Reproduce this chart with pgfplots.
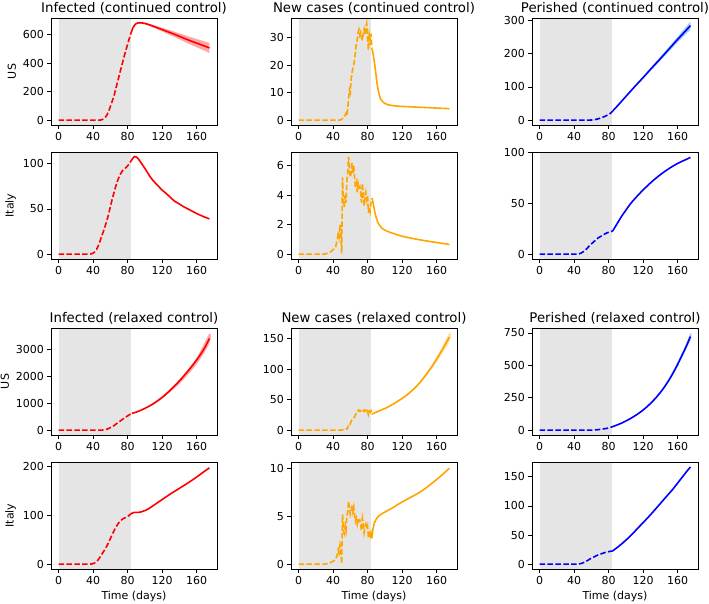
\documentclass[border=0pt]{standalone}
\usepackage{pgfplots}
\pgfplotsset{compat=1.18}
\usepackage{fontspec}
\setmainfont{DejaVu Sans}
\definecolor{mplorange}{RGB}{255,165,0}
\definecolor{spangray}{RGB}{229,229,229}
\definecolor{bandblue}{RGB}{110,180,250}
\pgfplotsset{
  base/.style={
    width=166pt, height=107pt, scale only axis, anchor=north west,
    xmin=-8.75, xmax=183.75, xtick={0,40,80,120,160},
    tick pos=left, tick align=outside, major tick length=3.6pt,
    every tick/.style={black, line width=0.8pt},
    axis line style={line width=0.8pt},
    ticklabel style={font=\fontsize{11}{13}\selectfont},
    title style={font=\fontsize{13.3}{15}\selectfont, yshift=-6pt},
    label style={font=\fontsize{11}{13}\selectfont},
    /pgf/number format/1000 sep={},
    /pgf/number format/assume math mode=true,
    scaled y ticks=false, axis on top, clip=true,
  },
  obs/.style={line width=1.6pt, dash pattern=on 5.5pt off 2.4pt},
  proj/.style={line width=1.6pt, smooth, tension=0.5},
}
\begin{document}
\begin{tikzpicture}
\useasboundingbox (0,0) rectangle (709pt,-603pt);
% ---------------- Row 1: US continued
\begin{axis}[base, at={(51pt,-18pt)}, ymin=-34.1, ymax=716, ytick={0,200,400,600},
  title={Infected (continued control)}, ylabel={US}]
\addplot[fill=spangray, draw=none] coordinates {(0,-34.1) (84,-34.1) (84,716) (0,716)};
\addplot[fill=red, fill opacity=0.35, draw=none] coordinates {(85,625)(90,680)(100,683)(110,667)(120,648)(130,629)(140,609)(150,588)(160,569)(170,551)(175,542)(175,470)(170,485)(160,511)(150,538)(140,567)(130,595)(120,622)(110,649)(100,673)(90,676)(85,625)};
\addplot[obs, red] coordinates {(0,0)(10,0)(20,0)(30,0)(40,0)(48,0.5)(50,2)(52,8)(54,18)(56,35)(58,60)(60,94)(62,128)(64,164)(66,210)(68,258)(70,305)(72,352)(74,398)(76,445)(78,488)(80,530)(82,572)(84,610)(85,625)};
\addplot[proj, red] coordinates {(85,625)(86,645)(88,664)(90,676)(92,682)(95,683)(100,678)(105,669)(110,658)(120,635)(130,612)(140,588)(150,563)(160,540)(170,518)(175,506)};
\end{axis}
\begin{axis}[base, at={(291pt,-18pt)}, ymin=-1.77, ymax=37.2, ytick={0,10,20,30},
  title={New cases (continued control)}]
\addplot[fill=spangray, draw=none] coordinates {(0,-1.77) (84,-1.77) (84,37.2) (0,37.2)};
\addplot[obs, mplorange] coordinates {(0,0)(10,0)(20,0)(30,0)(40,0)(48,0)(50,0.3)(52,0.8)(54,1.8)(55,2.5)(56,1.5)(57,4)(58,8)(59,11)(60,10)(61,15)(62,17)(63,19)(64,20)(65,22)(66,25)(67,28)(68,29)(69,32)(70,33)(71,31)(72,32)(73,30)(74,29)(75,31.5)(76,33)(77,31)(78,34)(79,35.3)(80,30)(81,25.5)(82,31)(83,29)(84,31.5)(85,26)};
\addplot[proj, mplorange] coordinates {(85,26)(86,25)(87,23)(88,21)(89,18.5)(90,16)(91,13.5)(92,11.5)(93,10)(94,8.8)(95,7.9)(96,7.3)(98,6.6)(100,6.1)(105,5.5)(110,5.25)(120,5.0)(130,4.85)(140,4.7)(150,4.55)(160,4.4)(170,4.25)(175,4.15)};
\end{axis}
\begin{axis}[base, at={(532pt,-18pt)}, ymin=-14.8, ymax=308, ytick={0,100,200,300},
  title={Perished (continued control)}]
\addplot[fill=spangray, draw=none] coordinates {(0,-14.8) (84,-14.8) (84,308) (0,308)};
\addplot[fill=bandblue, fill opacity=0.7, draw=none] coordinates {(85,28)(100,72)(120,131)(140,191)(160,251)(175,297)(175,273)(160,235)(140,179)(120,125)(100,70)(85,28)};
\addplot[obs, blue] coordinates {(0,0)(10,0)(20,0)(30,0)(40,0)(50,0)(58,0)(60,0.3)(62,0.8)(64,1.5)(66,2.5)(68,3.8)(70,5.5)(72,7.5)(74,9.5)(76,11.5)(78,14)(80,17)(82,20)(84,25)(85,28)};
\addplot[proj, blue] coordinates {(85,28)(90,42)(100,71)(110,100)(120,128)(130,157)(140,185)(150,214)(160,243)(170,271)(175,285)};
\end{axis}
% ---------------- Row 2: Italy continued
\begin{axis}[base, at={(51pt,-152pt)}, ymin=-5.4, ymax=113, ytick={0,50,100},
  ylabel={Italy}]
\addplot[fill=spangray, draw=none] coordinates {(0,-5.4) (84,-5.4) (84,113) (0,113)};
\addplot[obs, red] coordinates {(0,0)(10,0)(20,0)(30,0)(36,0)(38,0.3)(40,1)(42,2.5)(44,5)(46,9)(48,14)(50,20)(52,25)(54,31)(56,37)(58,44)(60,52)(62,60)(64,67)(66,74)(68,80)(70,85)(72,89)(74,92)(76,94)(78,95.5)(80,97.5)(82,100)(84,103)(85,104)};
\addplot[proj, red] coordinates {(85,104)(86,106)(88,108)(90,107.5)(92,106)(95,102)(100,95)(106,86)(110,81)(115,76)(120,71)(125,67)(130,62.5)(134,59)(140,55.5)(145,52.5)(150,50)(157,46.5)(160,45)(167,42)(175,39)};
\end{axis}
\begin{axis}[base, at={(291pt,-152pt)}, ymin=-0.33, ymax=6.93, ytick={0,2,4,6}]
\addplot[fill=spangray, draw=none] coordinates {(0,-0.33) (84,-0.33) (84,6.93) (0,6.93)};
\addplot[obs, mplorange] coordinates {(0,0)(10,0)(20,0)(30,0)(33,0.05)(36,0.1)(40,0.3)(43,0.5)(45,1.0)(46,1.5)(47,1.2)(48,2.0)(49,1.5)(50,0.05)(51,5.2)(52,3.5)(53,3.2)(54,4)(55,3.5)(56,5)(57,5.5)(58,6.6)(59,5.8)(60,5.2)(61,5.5)(62,6.2)(63,5.5)(64,6)(65,5.2)(66,4.5)(67,4.8)(68,4.2)(69,4.8)(70,4.5)(71,4.6)(72,4.2)(73,3.5)(74,4.8)(75,4.2)(76,3.3)(77,3.9)(78,4.2)(79,3.7)(80,4.0)(81,2.8)(82,3.2)(83,2.9)(84,3.5)(85,3.8)};
\addplot[proj, mplorange] coordinates {(85,3.8)(86,3.6)(87,3.3)(88,3.0)(89,2.7)(90,2.5)(92,2.15)(94,1.95)(97,1.75)(100,1.63)(103,1.55)(110,1.4)(120,1.22)(130,1.09)(140,0.98)(150,0.88)(160,0.79)(170,0.7)(175,0.65)};
\end{axis}
\begin{axis}[base, at={(532pt,-152pt)}, ymin=-4.75, ymax=100.3, ytick={0,50,100}]
\addplot[fill=spangray, draw=none] coordinates {(0,-4.75) (84,-4.75) (84,100.3) (0,100.3)};
\addplot[obs, blue] coordinates {(0,0)(10,0)(20,0)(30,0)(40,0)(44,0)(46,0.4)(48,1)(50,2)(52,3.3)(54,4.8)(56,6.5)(58,8.5)(60,10)(62,11.5)(64,13)(66,14.5)(68,16)(70,17)(72,18)(74,19)(76,20)(78,20.8)(80,21.5)(82,22)(84,22.5)(85,23)};
\addplot[proj, blue] coordinates {(85,23)(90,30)(95,37)(100,43)(105,49)(110,54)(116,59.5)(120,63)(130,71)(140,78)(150,84)(160,89)(170,93)(175,95)};
\end{axis}
% ---------------- Row 3: US relaxed
\begin{axis}[base, at={(51pt,-328pt)}, ymin=-181, ymax=3807, ytick={0,1000,2000,3000},
  title={Infected (relaxed control)}, ylabel={US}]
\addplot[fill=spangray, draw=none] coordinates {(0,-181) (84,-181) (84,3807) (0,3807)};
\addplot[fill=red, fill opacity=0.35, draw=none, smooth] coordinates {(85,625)(100,830)(120,1270)(140,1875)(160,2690)(175,3600)(175,3240)(160,2450)(140,1725)(120,1190)(100,800)(85,625)};
\addplot[obs, red] coordinates {(0,0)(10,0)(20,0)(30,0)(40,0)(48,0.5)(50,2)(52,8)(54,18)(56,35)(58,60)(60,94)(62,128)(64,164)(66,210)(68,258)(70,305)(72,352)(74,398)(76,445)(78,488)(80,530)(82,572)(84,610)(85,625)};
\addplot[proj, red] coordinates {(85,625)(90,672)(95,735)(100,810)(105,890)(110,985)(115,1095)(120,1215)(125,1350)(130,1500)(135,1660)(140,1830)(145,2010)(150,2200)(155,2400)(160,2610)(165,2840)(170,3100)(175,3420)};
\end{axis}
\begin{axis}[base, at={(291pt,-328pt)}, ymin=-8, ymax=167.6, ytick={0,50,100,150},
  title={New cases (relaxed control)}]
\addplot[fill=spangray, draw=none] coordinates {(0,-8) (84,-8) (84,167.6) (0,167.6)};
\addplot[fill=mplorange, fill opacity=0.35, draw=none, smooth] coordinates {(85,26)(100,36)(120,52)(140,79)(160,120)(175,160)(175,146)(160,112)(140,75)(120,50)(100,35)(85,26)};
\addplot[obs, mplorange] coordinates {(0,0)(10,0)(20,0)(30,0)(40,0)(48,0)(50,0.3)(52,0.8)(54,1.8)(55,2.5)(56,1.5)(57,4)(58,8)(59,11)(60,10)(61,15)(62,17)(63,19)(64,20)(65,22)(66,25)(67,28)(68,29)(69,32)(70,33)(71,31)(72,32)(73,30)(74,29)(75,31.5)(76,33)(77,31)(78,34)(79,35.3)(80,30)(81,25.5)(82,31)(83,29)(84,31.5)(85,26)};
\addplot[proj, mplorange] coordinates {(85,26)(90,29.5)(95,32.5)(100,35.5)(105,39)(110,43)(115,47.5)(120,52)(125,57)(130,63)(135,69.5)(140,77)(145,85.5)(150,95)(155,105)(160,116)(165,128)(170,140)(175,153)};
\end{axis}
\begin{axis}[base, at={(532pt,-328pt)}, ymin=-37.5, ymax=788, ytick={0,250,500,750},
  title={Perished (relaxed control)}]
\addplot[fill=spangray, draw=none] coordinates {(0,-37.5) (84,-37.5) (84,788) (0,788)};
\addplot[fill=bandblue, fill opacity=0.7, draw=none, smooth] coordinates {(85,28)(105,92)(125,186)(145,345)(165,592)(175,747)(175,697)(165,558)(145,325)(125,178)(105,88)(85,28)};
\addplot[obs, blue] coordinates {(0,0)(10,0)(20,0)(30,0)(40,0)(50,0)(58,0)(60,0.3)(62,0.8)(64,1.5)(66,2.5)(68,3.8)(70,5.5)(72,7.5)(74,9.5)(76,11.5)(78,14)(80,17)(82,20)(84,25)(85,28)};
\addplot[proj, blue] coordinates {(85,28)(90,40)(95,54)(100,70)(105,88)(110,108)(115,130)(120,155)(125,183)(130,215)(135,250)(140,290)(145,335)(150,385)(155,442)(160,505)(165,575)(170,645)(175,722)};
\end{axis}
% ---------------- Row 4: Italy relaxed
\begin{axis}[base, at={(51pt,-462pt)}, ymin=-10, ymax=209, ytick={0,100,200},
  ylabel={Italy}, xlabel={Time (days)}]
\addplot[fill=spangray, draw=none] coordinates {(0,-10) (84,-10) (84,209) (0,209)};
\addplot[obs, red] coordinates {(0,0)(10,0)(20,0)(30,0)(36,0)(38,0.3)(40,1)(42,2.5)(44,5)(46,9)(48,14)(50,20)(52,25)(54,31)(56,37)(58,44)(60,52)(62,60)(64,67)(66,74)(68,80)(70,85)(72,89)(74,92)(76,94)(78,95.5)(80,97.5)(82,100)(84,103)(85,104)};
\addplot[proj, red] coordinates {(85,104)(88,106)(90,106)(93,106)(96,107)(100,109.5)(105,114)(110,120)(115,126)(120,132)(125,138)(130,144)(135,149.5)(140,155)(145,160.5)(150,166)(155,172)(160,178)(165,184.5)(170,191)(175,197)};
\end{axis}
\begin{axis}[base, at={(291pt,-462pt)}, ymin=-0.51, ymax=10.7, ytick={0,5,10},
  xlabel={Time (days)}]
\addplot[fill=spangray, draw=none] coordinates {(0,-0.51) (84,-0.51) (84,10.7) (0,10.7)};
\addplot[obs, mplorange] coordinates {(0,0)(10,0)(20,0)(30,0)(33,0.05)(36,0.1)(40,0.3)(43,0.5)(45,1.0)(46,1.5)(47,1.2)(48,2.0)(49,1.5)(50,0.05)(51,5.2)(52,3.5)(53,3.2)(54,4)(55,3.5)(56,5)(57,5.5)(58,6.6)(59,5.8)(60,5.2)(61,5.5)(62,6.2)(63,5.5)(64,6)(65,5.2)(66,4.5)(67,4.8)(68,4.2)(69,4.8)(70,4.5)(71,4.6)(72,4.2)(73,3.5)(74,4.8)(75,4.2)(76,3.3)(77,3.9)(78,4.2)(79,3.7)(80,4.0)(81,2.8)(82,3.2)(83,2.9)(84,3.3)(85,2.7)};
\addplot[proj, mplorange] coordinates {(85,2.7)(86,3.5)(87,4.0)(88,4.35)(90,4.7)(93,5.05)(97,5.3)(100,5.45)(105,5.7)(110,5.95)(117,6.35)(125,6.75)(133,7.15)(140,7.5)(148,8.0)(155,8.5)(160,8.85)(167,9.4)(175,10.05)};
\end{axis}
\begin{axis}[base, at={(532pt,-462pt)}, ymin=-8.35, ymax=175.4, ytick={0,50,100,150},
  xlabel={Time (days)}]
\addplot[fill=spangray, draw=none] coordinates {(0,-8.35) (84,-8.35) (84,175.4) (0,175.4)};
\addplot[obs, blue] coordinates {(0,0)(10,0)(20,0)(30,0)(40,0)(44,0)(46,0.4)(48,1)(50,2)(52,3.3)(54,4.8)(56,6.5)(58,8.5)(60,10)(62,11.5)(64,13)(66,14.5)(68,16)(70,17)(72,18)(74,19)(76,20)(78,20.8)(80,21.5)(82,22)(84,22.5)(85,23)};
\addplot[proj, blue] coordinates {(85,23)(90,28.5)(95,34.5)(100,41)(105,48)(110,55.5)(115,63.5)(120,71)(125,79)(130,87)(135,95.5)(140,104)(145,112.5)(150,121)(155,129.5)(160,139)(165,148.5)(170,158)(175,167)};
\end{axis}
\end{tikzpicture}
\end{document}
